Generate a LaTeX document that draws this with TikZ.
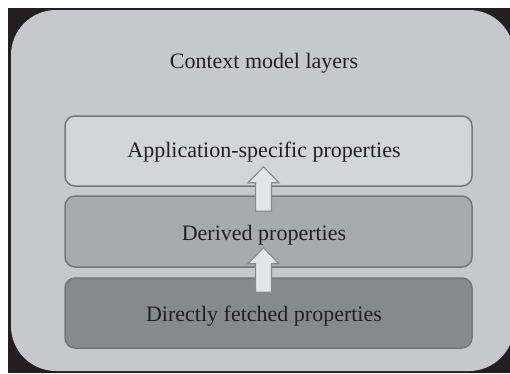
\documentclass[tikz,border=0pt]{standalone}
\usepackage{fontspec}
\setmainfont{Liberation Serif}
\usetikzlibrary{calc}

\definecolor{ink}{HTML}{231F20}
\definecolor{panel}{HTML}{C7C8CA}
\definecolor{layerA}{HTML}{D4D5D7}
\definecolor{layerB}{HTML}{A9AAAC}
\definecolor{layerC}{HTML}{88898B}
\definecolor{rim}{HTML}{76777A}
\definecolor{arrowfill}{HTML}{E3E4E5}
\definecolor{arrowrim}{HTML}{8A8B8D}

\tikzset{
  layer/.style={draw=rim, line width=1.5pt, rounded corners=10pt,
    minimum width=407pt, inner sep=0pt},
  caption/.style={anchor=base, text=ink, inner sep=0pt,
    font=\fontsize{22}{26}\selectfont},
  blockarrow/.style={draw=arrowrim, line width=1.2pt, fill=arrowfill,
    line join=miter}
}

% upward block arrow from a base point (#1) to a tip point (#2);
% the y axis points down, so the head base lies at +16
\newcommand\upblock[2]{%
  \draw[blockarrow]
    ($(#1)+(-8,0)$) -- ($(#2)+(-8,16)$) -- ($(#2)+(-15.5,16)$) -- (#2)
    -- ($(#2)+(15.5,16)$) -- ($(#2)+(8,16)$) -- ($(#1)+(8,0)$) -- cycle;}

\begin{document}
\begin{tikzpicture}[x=1pt, y=-1pt]
  \useasboundingbox (0,0) rectangle (510,373);
  \fill[white] (0,0) rectangle (510,373);
  \fill[ink] (8,8) rectangle (510,373);
  \begin{scope}
    \clip (8,8) rectangle (510,373);
    \fill[panel, rounded corners=45pt] (11,10) rectangle (514,371);
  \end{scope}

  \node[caption] (title) at (264,68) {Context model layers};

  \node[layer, fill=layerA, minimum height=70pt] (app) at (268.5,151) {};
  \node[layer, fill=layerB, minimum height=71pt] (derived) at (268.5,231.5) {};
  \node[layer, fill=layerC, minimum height=70pt] (direct) at (268.5,313) {};

  \coordinate (t1) at ($(app.south)+(-5,-20)$);
  \coordinate (b1) at ($(derived.north)+(-5,16)$);
  \coordinate (t2) at ($(derived.south)+(-5,-20)$);
  \coordinate (b2) at ($(direct.north)+(-5,15)$);
  \upblock{b1}{t1}
  \upblock{b2}{t2}

  \node[caption] (appText) at (264,157) {Application-specific properties};
  \node[caption] (derivedText) at (264,240) {Derived properties};
  \node[caption] (directText) at (264,321) {Directly fetched properties};
\end{tikzpicture}
\end{document}
